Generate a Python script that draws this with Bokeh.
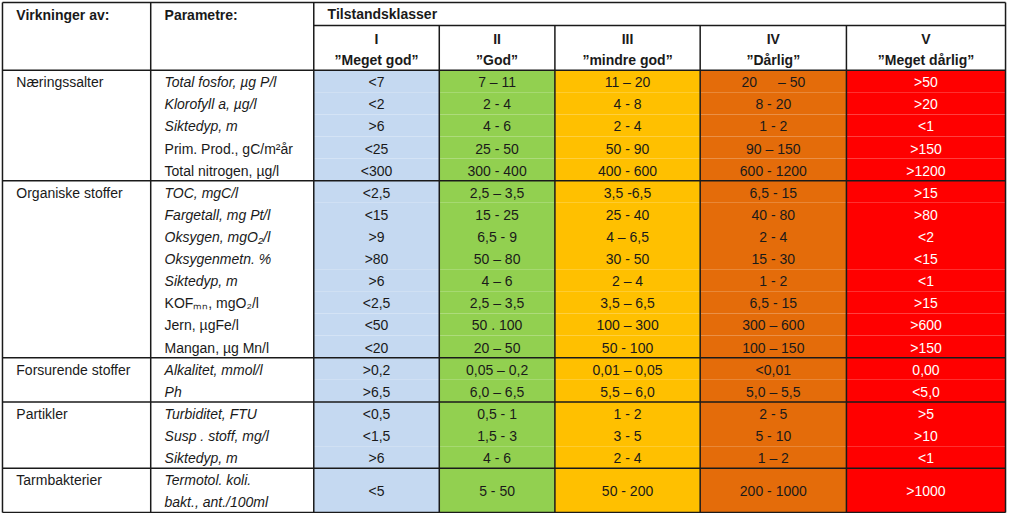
from bokeh.plotting import figure
from bokeh.models import Range1d, ColumnDataSource
from bokeh.embed import file_html
from bokeh.resources import INLINE
from bokeh.core.properties import value

# ---------------- data ----------------
col_headers = ["Virkninger av:", "Parametre:"]
super_header = "Tilstandsklasser"
class_numerals = ["I", "II", "III", "IV", "V"]
class_names = ["\u201dMeget god\u201d", "\u201dGod\u201d", "\u201dmindre god\u201d",
               "\u201dD\u00e5rlig\u201d", "\u201dMeget d\u00e5rlig\u201d"]

groups = ["N\u00e6ringssalter", "Organiske stoffer", "Forsurende stoffer",
          "Partikler", "Tarmbakterier"]
group_sizes = [5, 8, 2, 3, 1]

parameters = [
    "Total fosfor, \u00b5g P/l", "Klorofyll a, \u00b5g/l", "Siktedyp, m",
    "Prim. Prod., gC/m\u00b2\u00e5r", "Total nitrogen, \u00b5g/l",
    "TOC, mgC/l", "Fargetall, mg Pt/l", "Oksygen, mgO\u2082/l", "Oksygenmetn. %",
    "Siktedyp, m", "KOF\u2098\u2099, mgO\u2082/l", "Jern, \u00b5gFe/l", "Mangan, \u00b5g Mn/l",
    "Alkalitet, mmol/l", "Ph",
    "Turbiditet, FTU", "Susp . stoff, mg/l", "Siktedyp, m",
    "Termotol. koli.\nbakt., ant./100ml",
]
param_italic = [True, True, True, False, False,
                True, True, True, True, True, False, False, False,
                True, True,
                True, True, True,
                True]

klasse_I = ["<7", "<2", ">6", "<25", "<300",
            "<2,5", "<15", ">9", ">80", ">6", "<2,5", "<50", "<20",
            ">0,2", ">6,5",
            "<0,5", "<1,5", ">6",
            "<5"]
klasse_II = ["7 \u2013 11", "2 - 4", "4 - 6", "25 - 50", "300 - 400",
             "2,5 \u2013 3,5", "15 - 25", "6,5 - 9", "50 \u2013 80", "4 \u2013 6",
             "2,5 \u2013 3,5", "50 . 100", "20 \u2013 50",
             "0,05 \u2013 0,2", "6,0 \u2013 6,5",
             "0,5 - 1", "1,5 - 3", "4 - 6",
             "5 - 50"]
klasse_III = ["11 \u2013 20", "4 - 8", "2 - 4", "50 - 90", "400 - 600",
              "3,5 -6,5", "25 - 40", "4 \u2013 6,5", "30 - 50", "2 \u2013 4",
              "3,5 \u2013 6,5", "100 \u2013 300", "50 - 100",
              "0,01 \u2013 0,05", "5,5 \u2013 6,0",
              "1 - 2", "3 - 5", "2 - 4",
              "50 - 200"]
klasse_IV = ["20\u2002\u2002\u2002\u2013 50", "8 - 20", "1 - 2", "90 \u2013 150", "600 - 1200",
             "6,5 - 15", "40 - 80", "2 - 4", "15 - 30", "1 - 2",
             "6,5 - 15", "300 \u2013 600", "100 \u2013 150",
             "<0,01", "5,0 \u2013 5,5",
             "2 - 5", "5 - 10", "1 \u2013 2",
             "200 - 1000"]
klasse_V = [">50", ">20", "<1", ">150", ">1200",
            ">15", ">80", "<2", "<15", "<1", ">15", ">600", ">150",
            "0,00", "<5,0",
            ">5", ">10", "<1",
            ">1000"]
class_values = [klasse_I, klasse_II, klasse_III, klasse_IV, klasse_V]

# ---------------- styles / geometry ----------------
class_colors = ["#C5D9F1", "#92D050", "#FFC000", "#E46C0A", "#FF0000"]
class_text_colors = ["#1a1a1a", "#1a1a1a", "#1a1a1a", "#1a1a1a", "#ffffff"]
FONT = "Liberation Sans"
BODY = "14px"
HEAD = "14px"
TXT = "#1a1a1a"
LINE = "#1a1a1a"

X = [3, 153, 318, 445, 562, 709, 857, 1018]
Y_TOP, Y_MID, Y_HEAD, Y_BOT = 3, 26.5, 72, 523

line_counts = [len(t.split("\n")) for t in parameters]
n_lines = sum(line_counts)
RH = (Y_BOT - Y_HEAD) / n_lines

p = figure(width=1008, height=513, output_backend="svg", toolbar_location=None,
           x_range=Range1d(1, 1021), y_range=Range1d(524, 1),
           min_border=0, outline_line_color=None)
p.axis.visible = False
p.grid.visible = False
p.background_fill_color = "white"

# parameter row positions
row_top, row_bot = [], []
r = 0
for lc in line_counts:
    row_top.append(Y_HEAD + r * RH)
    row_bot.append(Y_HEAD + (r + lc) * RH)
    r += lc

# coloured cells
for c, vals in enumerate(class_values):
    src = ColumnDataSource(dict(left=[X[2 + c]] * len(vals), right=[X[3 + c]] * len(vals),
                                top=row_top, bottom=row_bot))
    p.quad(left="left", right="right", top="top", bottom="bottom", source=src,
           fill_color=class_colors[c], line_color=None)

# values
for c, vals in enumerate(class_values):
    xs = [(X[2 + c] + X[3 + c]) / 2] * len(vals)
    ys = [(t + b) / 2 + 1 for t, b in zip(row_top, row_bot)]
    p.text(x=xs, y=ys, text=vals, text_align="center", text_baseline="middle",
           text_font=value(FONT), text_font_size=BODY, text_color=class_text_colors[c])

# parameter texts
for italic in (True, False):
    xs, ys, ts = [], [], []
    for i, t in enumerate(parameters):
        if param_italic[i] != italic:
            continue
        for k, line in enumerate(t.split("\n")):
            xs.append(X[1] + 14)
            ys.append(row_top[i] + (k + 0.5) * RH + 1)
            ts.append(line)
    p.text(x=xs, y=ys, text=ts, text_align="left", text_baseline="middle",
           text_font=value(FONT), text_font_size=BODY, text_color=TXT,
           text_font_style="italic" if italic else "normal")

# group names and separators
gx, gy, sep_y = [], [], []
idx = 0
for g, n in zip(groups, group_sizes):
    gx.append(X[0] + 14)
    gy.append(row_top[idx] + RH / 2 + 1)
    idx += n
    sep_y.append(row_bot[idx - 1])
p.text(x=gx, y=gy, text=groups, text_align="left", text_baseline="middle",
       text_font=value(FONT), text_font_size=BODY, text_color=TXT)

# header texts
p.text(x=[X[0] + 14, X[1] + 14, X[2] + 14], y=[16, 16, 15],
       text=col_headers + [super_header], text_align="left", text_baseline="middle",
       text_font=value(FONT), text_font_size=HEAD, text_font_style="bold", text_color=TXT)
cx = [(X[2 + c] + X[3 + c]) / 2 for c in range(5)]
p.text(x=cx, y=[40] * 5, text=class_numerals, text_align="center", text_baseline="middle",
       text_font=value(FONT), text_font_size=HEAD, text_font_style="bold", text_color=TXT)
p.text(x=cx, y=[61.5] * 5, text=class_names, text_align="center", text_baseline="middle",
       text_font=value(FONT), text_font_size=HEAD, text_font_style="bold", text_color=TXT)

# grid lines
hx0, hy0, hx1, hy1 = [], [], [], []
for y in [Y_TOP, Y_HEAD] + sep_y:
    hx0.append(X[0]); hx1.append(X[7]); hy0.append(y); hy1.append(y)
hx0.append(X[2]); hx1.append(X[7]); hy0.append(Y_MID); hy1.append(Y_MID)
for i, x in enumerate(X):
    hx0.append(x); hx1.append(x)
    hy0.append(Y_MID if 3 <= i <= 6 else Y_TOP); hy1.append(Y_BOT)
p.segment(x0=hx0, y0=hy0, x1=hx1, y1=hy1, line_color=LINE, line_width=1.5)

open("out.html", "w").write(file_html(p, INLINE))
